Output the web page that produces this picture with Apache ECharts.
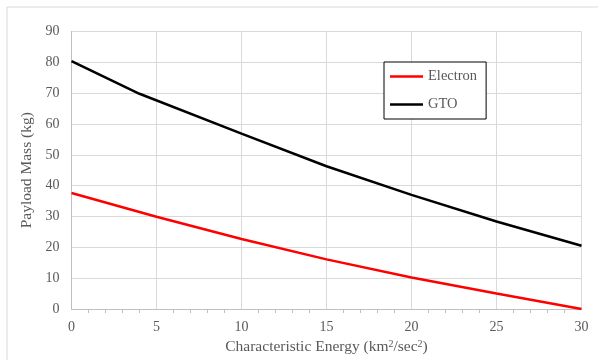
<!DOCTYPE html>
<html>
<head>
<meta charset="utf-8">
<script src="https://cdn.jsdelivr.net/npm/echarts@6/dist/echarts.min.js"></script>
<style>
  html, body { margin: 0; padding: 0; background: #fff; }
  #chart { width: 598px; height: 360px; }
</style>
</head>
<body>
<div id="chart"></div>
<script>
// values
const electronX = [0, 5, 10, 15, 20, 25, 30]
const electronY = [37.6, 29.9, 22.7, 16.1, 10.2, 5.0, 0]
const gtoX = [0, 4, 10, 15, 20, 25, 30]
const gtoY = [80.4, 69.8, 56.9, 46.3, 37.0, 28.4, 20.5]

const seriesNames = ['Electron', 'GTO']
const xTitle = 'Characteristic Energy (km{sup|2}/sec{sup|2})'
const yTitle = 'Payload Mass (kg)'

const font = '"Liberation Serif", "Times New Roman", serif'
const labelColor = '#595959'

const chart = echarts.init(document.getElementById('chart'))

const pairs = (xs, ys) => xs.map((x, i) => [x, ys[i]])

chart.setOption({
  animation: false,
  textStyle: { fontFamily: font },
  graphic: [
    {
      type: 'rect',
      shape: { x: 7, y: 7, width: 600, height: 360 },
      style: { fill: 'none', stroke: '#d9d9d9', lineWidth: 1 },
      z: -10,
    },
  ],
  legend: {
    data: seriesNames,
    orient: 'vertical',
    left: 384,
    top: 62,
    padding: [7, 9, 7, 6],
    itemGap: 13,
    itemWidth: 33,
    itemHeight: 2.5,
    itemTextGap: 3,
    icon: 'rect',
    borderColor: '#000',
    borderWidth: 1,
    backgroundColor: '#fff',
    textStyle: { color: labelColor, fontSize: 14.5, fontFamily: font },
  },
  grid: { left: 71.5, right: 16.5, top: 31.5, bottom: 47 },
  xAxis: {
    type: 'value',
    min: 0,
    max: 30,
    interval: 5,
    name: xTitle,
    nameLocation: 'middle',
    nameGap: 30,
    nameTextStyle: {
      color: labelColor,
      fontSize: 15.5,
      fontFamily: font,
      rich: {
        sup: { fontSize: 10, verticalAlign: 'top', color: labelColor, fontFamily: font, padding: [0, 0, 6, 0] },
      },
    },
    axisLine: { lineStyle: { color: '#bfbfbf', width: 1 } },
    axisTick: { show: false },
    minorTick: { show: true, splitNumber: 5, length: 4, lineStyle: { color: '#bfbfbf' } },
    axisLabel: { color: labelColor, fontSize: 14, fontFamily: font, margin: 11 },
    splitLine: { lineStyle: { color: '#d9d9d9', width: 1 } },
  },
  yAxis: {
    type: 'value',
    min: 0,
    max: 90,
    interval: 10,
    name: yTitle,
    nameLocation: 'middle',
    nameGap: 37,
    nameTextStyle: { color: labelColor, fontSize: 15.5, fontFamily: font },
    axisLine: { show: true, lineStyle: { color: '#bfbfbf', width: 1 } },
    axisTick: { show: false },
    axisLabel: { color: labelColor, fontSize: 14, fontFamily: font, margin: 12 },
    splitLine: { lineStyle: { color: '#d9d9d9', width: 1 } },
  },
  series: [
    {
      name: seriesNames[0],
      type: 'line',
      showSymbol: false,
      data: pairs(electronX, electronY),
      color: '#ff0000',
      lineStyle: { width: 2.5, color: '#ff0000' },
    },
    {
      name: seriesNames[1],
      type: 'line',
      showSymbol: false,
      data: pairs(gtoX, gtoY),
      color: '#000000',
      lineStyle: { width: 2.5, color: '#000000' },
    },
  ],
})
</script>
</body>
</html>
